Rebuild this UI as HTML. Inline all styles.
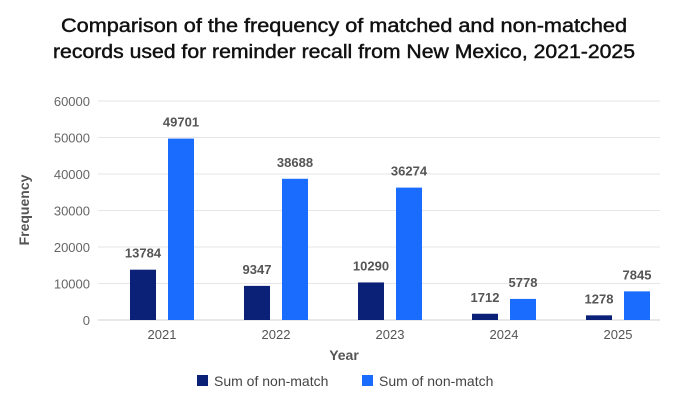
<!DOCTYPE html>
<html><head><meta charset="utf-8"><style>
body{margin:0;background:#fff;font-family:"Liberation Sans",sans-serif}
svg text{font-family:"Liberation Sans",sans-serif}
</style></head><body>
<svg width="688" height="404">
<text x="344" y="32" text-anchor="middle" font-size="19" fill="#111" stroke="#111" stroke-width="0.45" textLength="566" lengthAdjust="spacingAndGlyphs">Comparison of the frequency of matched and non-matched</text>
<text x="344" y="58" text-anchor="middle" font-size="19" fill="#111" stroke="#111" stroke-width="0.45" textLength="582" lengthAdjust="spacingAndGlyphs">records used for reminder recall from New Mexico, 2021-2025</text>
<g id="grid"></g><g id="bars"></g>
<text transform="translate(29,210) rotate(-90)" text-anchor="middle" font-size="14" font-weight="bold" fill="#555">Frequency</text>
<text x="344" y="360" text-anchor="middle" font-size="14" font-weight="bold" fill="#555">Year</text>
<rect x="197" y="375" width="11" height="11" fill="#0b2178"/>
<text x="214" y="386" font-size="14" fill="#444">Sum of non-match</text>
<rect x="362" y="375" width="11" height="11" fill="#1a6cff"/>
<text x="379" y="386" font-size="14" fill="#444">Sum of non-match</text>
</svg>
<script>
const categories=["2021","2022","2023","2024","2025"];
const seriesDark=[13784,9347,10290,1712,1278];
const seriesLight=[49701,38688,36274,5778,7845];
const yTicks=[0,10000,20000,30000,40000,50000,60000];
const NS="http://www.w3.org/2000/svg";
const y=v=>320-v/60000*219;
const xc=i=>162+i*114;
function mk(t,a,p,txt){const e=document.createElementNS(NS,t);for(const k in a)e.setAttribute(k,a[k]);if(txt!=null)e.textContent=txt;p.appendChild(e);return e;}
const g=document.getElementById('grid'),b=document.getElementById('bars');
yTicks.forEach(v=>{
 const l=mk('line',{x1:98,x2:660,y1:y(v),y2:y(v),stroke:v===0?'#d0d0d0':'#e6e6e6','stroke-width':1},g);
 
 
 const t=mk('text',{x:90,y:y(v)+5,'text-anchor':'end','font-size':13,fill:'#666'},g,String(v));
 
 
});
categories.forEach((c,i)=>{
 const cx=xc(i);
 [[seriesDark[i],cx-32,'#0b2178'],[seriesLight[i],cx+6,'#1a6cff']].forEach(([v,x,col],k)=>{
  const r=mk('rect',{x:x,y:y(v),width:26,height:320-y(v),fill:col},b);
  
  
  const t=mk('text',{x:x+13,y:y(v)-12,'text-anchor':'middle','font-size':13,'font-weight':'bold',fill:'#555'},b,String(v));
  
  
 });
 const t=mk('text',{x:cx,y:339,'text-anchor':'middle','font-size':13,fill:'#555'},b,c);
 
 
});
</script>
</body></html>
